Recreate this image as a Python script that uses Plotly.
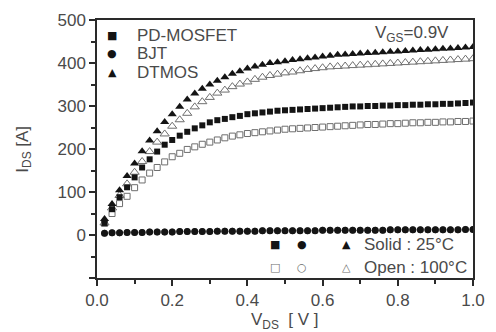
import plotly.graph_objects as go

# Drain-source voltage sweep [V]
vds = [0.02, 0.04, 0.06, 0.08, 0.10, 0.12, 0.14, 0.16, 0.18, 0.20,
       0.22, 0.24, 0.26, 0.28, 0.30, 0.32, 0.34, 0.36, 0.38, 0.40,
       0.42, 0.44, 0.46, 0.48, 0.50, 0.52, 0.54, 0.56, 0.58, 0.60,
       0.62, 0.64, 0.66, 0.68, 0.70, 0.72, 0.74, 0.76, 0.78, 0.80,
       0.82, 0.84, 0.86, 0.88, 0.90, 0.92, 0.94, 0.96, 0.98, 1.00]

# PD-MOSFET
pd_25 = [28, 60, 88, 111, 134, 157, 176, 194, 210, 221,
         231, 240, 248, 255, 262, 267, 270, 274, 277, 281,
         283, 285, 287, 289, 290, 291, 292, 293, 294, 295,
         296, 297, 298, 299, 299, 300, 300, 301, 301, 302,
         302, 303, 303, 304, 304, 305, 305, 306, 307, 308]
pd_100 = [27, 50, 73, 90, 110, 128, 144, 157, 170, 182,
          190, 199, 205, 211, 216, 221, 226, 230, 233, 236,
          238, 240, 242, 244, 246, 247, 248, 249, 250, 251,
          252, 253, 254, 255, 256, 257, 257, 258, 259, 259,
          260, 261, 261, 262, 262, 263, 263, 264, 264, 265]

# BJT
bjt_25 = [4, 5, 5, 6, 6, 6, 7, 7, 7, 7,
          8, 8, 8, 8, 8, 9, 9, 9, 9, 9,
          9, 10, 10, 10, 10, 10, 10, 10, 10, 11,
          11, 11, 11, 11, 11, 11, 11, 11, 12, 12,
          12, 12, 12, 12, 12, 12, 12, 12, 13, 13]
bjt_100 = [4, 5, 5, 6, 6, 6, 7, 7, 7, 7,
           8, 8, 8, 8, 8, 9, 9, 9, 9, 9,
           9, 10, 10, 10, 10, 10, 10, 10, 10, 11,
           11, 11, 11, 11, 11, 11, 11, 11, 12, 12,
           12, 12, 12, 12, 12, 12, 12, 12, 13, 13]

# DTMOS
dt_25 = [37, 72, 104, 137, 166, 195, 220, 241, 263, 281,
         298, 315, 329, 340, 350, 359, 367, 375, 381, 387,
         392, 396, 400, 402, 404, 407, 409, 411, 413, 415,
         417, 419, 420, 421, 422, 423, 424, 425, 426, 427,
         428, 429, 430, 431, 432, 433, 434, 435, 436, 437]
dt_100 = [28, 63, 92, 119, 146, 171, 194, 216, 235, 253,
          268, 283, 298, 310, 320, 330, 337, 345, 351, 356,
          362, 367, 371, 374, 377, 379, 382, 385, 387, 389,
          391, 392, 393, 394, 395, 396, 397, 398, 399, 400,
          401, 402, 403, 404, 405, 406, 407, 408, 409, 410]

series_names = ["PD-MOSFET", "BJT", "DTMOS"]
x_ticks = [0.0, 0.2, 0.4, 0.6, 0.8, 1.0]
x_tick_text = ["0.0", "0.2", "0.4", "0.6", "0.8", "1.0"]
y_ticks = [-100, 0, 100, 200, 300, 400, 500]
y_tick_text = ["", "0", "100", "200", "300", "400", "500"]

FONT = "Liberation Sans, Arial, sans-serif"
TXT = "#4a4a4a"
SOLID = "#141414"
OPEN = "#6e6e6e"

fig = go.Figure()

def open_trace(y, sym, size, name):
    fig.add_trace(go.Scatter(x=vds, y=y, mode="markers", name=name + " (100°C)",
                             showlegend=False,
                             marker=dict(symbol=sym, size=size, color="white",
                                         line=dict(color=OPEN, width=1))))

def solid_trace(y, sym, size, name):
    fig.add_trace(go.Scatter(x=vds, y=y, mode="markers", name=name + " (25°C)",
                             showlegend=False,
                             marker=dict(symbol=sym, size=size, color=SOLID,
                                         line=dict(width=0))))

open_trace(pd_100, "square", 6, series_names[0])
open_trace(bjt_100, "circle", 6, series_names[1])
open_trace(dt_100, "triangle-up", 8, series_names[2])
solid_trace(pd_25, "square", 6, series_names[0])
solid_trace(bjt_25, "circle", 7, series_names[1])
solid_trace(dt_25, "triangle-up", 8, series_names[2])

axis_common = dict(showgrid=False, zeroline=False, showline=True, linecolor="#2a2a2a",
                   linewidth=1.5, mirror=True, ticks="outside", ticklen=6, tickwidth=1.5,
                   tickcolor="#2a2a2a", tickfont=dict(family=FONT, size=17, color=TXT))

fig.update_xaxes(range=[0, 1.0], tickvals=x_ticks, ticktext=x_tick_text,
                 minor=dict(dtick=0.1, ticks="outside", ticklen=4, tickcolor="#2a2a2a"),
                 **axis_common)
fig.update_yaxes(range=[-100, 500], tickvals=y_ticks, ticktext=y_tick_text,
                 minor=dict(dtick=50, ticks="outside", ticklen=4, tickcolor="#2a2a2a"),
                 **axis_common)

annotations = [
    dict(text="V<sub>GS</sub>=0.9V", x=0.735, y=0.945, xanchor="left", yanchor="middle"),
    dict(text="I<sub>DS</sub> [A]", x=-0.195, y=0.5, textangle=-90, xanchor="center", yanchor="middle"),
    dict(text="V<sub>DS</sub>  [ V ]", x=0.5, y=-0.165, xanchor="center", yanchor="middle"),
    dict(text="Solid : 25°C", x=0.705, y=0.13, xanchor="left", yanchor="middle"),
    dict(text="Open : 100°C", x=0.705, y=0.04, xanchor="left", yanchor="middle"),
]
# legend (top-left) text
leg_y = [0.939, 0.870, 0.797]
for name, yy in zip(series_names, leg_y):
    annotations.append(dict(text=name, x=0.10, y=yy, xanchor="left", yanchor="middle"))
for a in annotations:
    a.update(xref="paper", yref="paper", showarrow=False,
             font=dict(family=FONT, size=17, color=TXT))
fig.update_layout(annotations=annotations)

# legend symbols (top-left)
for sym, yy in zip(("■", "●", "▲"), leg_y):
    fig.add_annotation(text=sym, x=0.041, y=yy, xref="paper", yref="paper",
                       showarrow=False, xanchor="center", yanchor="middle",
                       font=dict(family="DejaVu Sans", size=11, color=SOLID))

# key symbols in bottom-right box
key_rows = [("■", "●", "▲", 0.13, SOLID), ("□", "○", "△", 0.04, OPEN)]
key_x = [0.474, 0.546, 0.664]
for a, b, c, yy, col in key_rows:
    for sym, xx in zip((a, b, c), key_x):
        fig.add_annotation(text=sym, x=xx, y=yy, xref="paper", yref="paper",
                           showarrow=False, xanchor="center", yanchor="middle",
                           font=dict(family="DejaVu Sans", size=11, color=col))

fig.update_layout(
    width=496, height=332,
    margin=dict(l=97, r=11, t=17, b=54),
    paper_bgcolor="white", plot_bgcolor="white",
    showlegend=False,
)

fig.write_html("out.html")
